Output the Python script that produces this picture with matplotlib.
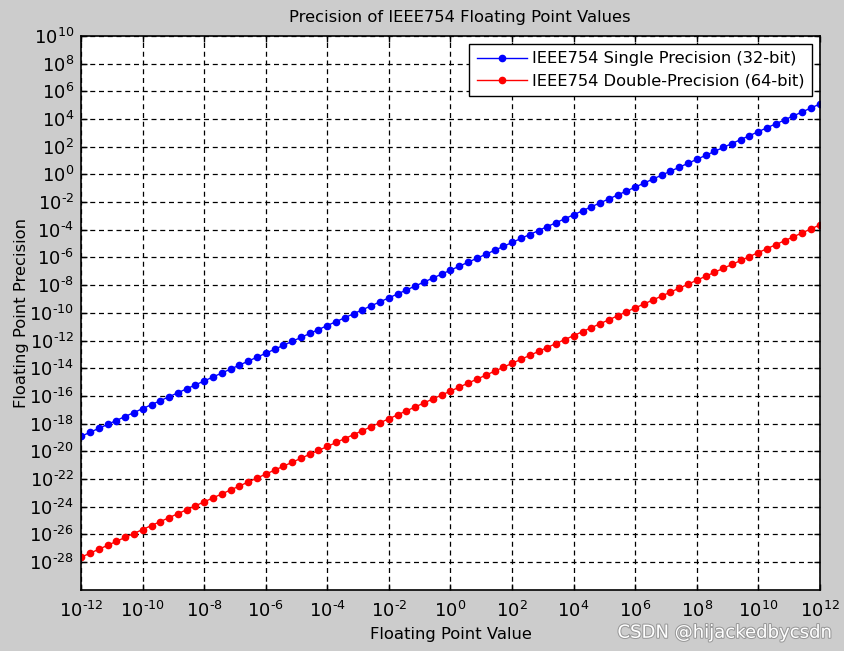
import numpy as np
import matplotlib
matplotlib.use("Agg")
import matplotlib.pyplot as plt
import matplotlib.patheffects as pe
from matplotlib.ticker import FixedLocator, FuncFormatter, NullLocator

# log10 of the floating point values (x axis)
x_exp = [-12.00, -11.71, -11.43, -11.14, -10.86, -10.57, -10.29,
         -10.00, -9.71, -9.43, -9.14, -8.86, -8.57, -8.29,
         -8.00, -7.71, -7.43, -7.14, -6.86, -6.57, -6.29,
         -6.00, -5.71, -5.43, -5.14, -4.86, -4.57, -4.29,
         -4.00, -3.71, -3.43, -3.14, -2.86, -2.57, -2.29,
         -2.00, -1.71, -1.43, -1.14, -0.86, -0.57, -0.29,
         0.00, 0.29, 0.57, 0.86, 1.14, 1.43, 1.71,
         2.00, 2.29, 2.57, 2.86, 3.14, 3.43, 3.71,
         4.00, 4.29, 4.57, 4.86, 5.14, 5.43, 5.71,
         6.00, 6.29, 6.57, 6.86, 7.14, 7.43, 7.71,
         8.00, 8.29, 8.57, 8.86, 9.14, 9.43, 9.71,
         10.00, 10.29, 10.57, 10.86, 11.14, 11.43, 11.71,
         12.00]

# log10 of the precision, single (32-bit)
single_exp = [-18.92, -18.63, -18.35, -18.06, -17.78, -17.49, -17.21,
              -16.92, -16.63, -16.35, -16.06, -15.78, -15.49, -15.21,
              -14.92, -14.63, -14.35, -14.06, -13.78, -13.49, -13.21,
              -12.92, -12.63, -12.35, -12.06, -11.78, -11.49, -11.21,
              -10.92, -10.63, -10.35, -10.06, -9.78, -9.49, -9.21,
              -8.92, -8.63, -8.35, -8.06, -7.78, -7.49, -7.21,
              -6.92, -6.63, -6.35, -6.06, -5.78, -5.49, -5.21,
              -4.92, -4.63, -4.35, -4.06, -3.78, -3.49, -3.21,
              -2.92, -2.63, -2.35, -2.06, -1.78, -1.49, -1.21,
              -0.92, -0.63, -0.35, -0.06, 0.22, 0.51, 0.79,
              1.08, 1.37, 1.65, 1.94, 2.22, 2.51, 2.79,
              3.08, 3.37, 3.65, 3.94, 4.22, 4.51, 4.79,
              5.08]

# log10 of the precision, double (64-bit)
double_exp = [-27.65, -27.36, -27.08, -26.79, -26.51, -26.22, -25.94,
              -25.65, -25.36, -25.08, -24.79, -24.51, -24.22, -23.94,
              -23.65, -23.36, -23.08, -22.79, -22.51, -22.22, -21.94,
              -21.65, -21.36, -21.08, -20.79, -20.51, -20.22, -19.94,
              -19.65, -19.36, -19.08, -18.79, -18.51, -18.22, -17.94,
              -17.65, -17.36, -17.08, -16.79, -16.51, -16.22, -15.94,
              -15.65, -15.36, -15.08, -14.79, -14.51, -14.22, -13.94,
              -13.65, -13.36, -13.08, -12.79, -12.51, -12.22, -11.94,
              -11.65, -11.36, -11.08, -10.79, -10.51, -10.22, -9.94,
              -9.65, -9.36, -9.08, -8.79, -8.51, -8.22, -7.94,
              -7.65, -7.36, -7.08, -6.79, -6.51, -6.22, -5.94,
              -5.65, -5.36, -5.08, -4.79, -4.51, -4.22, -3.94,
              -3.65]

x_ticks = list(range(-12, 13, 2))
y_ticks = list(range(-28, 11, 2))

plt.rcParams["font.family"] = "DejaVu Sans"
plt.rcParams["mathtext.default"] = "regular"

fig = plt.figure(figsize=(8.44, 6.51), dpi=100, facecolor="#cccccc")
ax = fig.add_axes([0.096, 0.094, 0.8755, 0.851])
ax.set_facecolor("white")

x = 10.0 ** np.array(x_exp)
ax.plot(x, 10.0 ** np.array(single_exp), color="blue", marker="o", markersize=4.5,
        markeredgecolor="blue", linewidth=1, label="IEEE754 Single Precision (32-bit)")
ax.plot(x, 10.0 ** np.array(double_exp), color="red", marker="o", markersize=4.5,
        markeredgecolor="red", linewidth=1, label="IEEE754 Double-Precision (64-bit)")

ax.set_xscale("log")
ax.set_yscale("log")
ax.set_xlim(1e-12, 1e12)
ax.set_ylim(1e-30, 1e10)


def pow_label(v, pos):
    e = int(round(np.log10(v)))
    if e < 0:
        return r"$10^{\text{-}%d}$" % (-e)
    return r"$10^{%d}$" % e


ax.xaxis.set_major_locator(FixedLocator([10.0 ** e for e in x_ticks]))
ax.yaxis.set_major_locator(FixedLocator([10.0 ** e for e in y_ticks]))
ax.xaxis.set_minor_locator(NullLocator())
ax.yaxis.set_minor_locator(NullLocator())
ax.xaxis.set_major_formatter(FuncFormatter(pow_label))
ax.yaxis.set_major_formatter(FuncFormatter(pow_label))

ax.tick_params(which="both", direction="in", top=True, right=True, length=4,
               width=1, labelsize=13, pad=5)
ax.tick_params(axis="x", pad=8)
ax.grid(True, color="black", linestyle="--", linewidth=0.9, dashes=(4, 3))
for s in ax.spines.values():
    s.set_linewidth(1.2)

ax.set_title("Precision of IEEE754 Floating Point Values", fontsize=11.8, pad=10,
             x=0.512)
ax.set_xlabel("Floating Point Value", fontsize=11.8, labelpad=4)
ax.set_ylabel("Floating Point Precision", fontsize=11.8, labelpad=0)

leg = ax.legend(loc="upper right", numpoints=1, fontsize=11.7, fancybox=False,
                framealpha=1, edgecolor="black", handlelength=3.1,
                handletextpad=0.3, borderaxespad=0.5, borderpad=0.45,
                labelspacing=0.45)
leg.get_frame().set_linewidth(1)

fig.text(0.985, 0.028, "CSDN @hijackedbycsdn", ha="right", va="center",
         fontsize=13, color="white",
         path_effects=[pe.withStroke(linewidth=1.5, foreground="#999999")])

fig.savefig("out.png", dpi=100, facecolor=fig.get_facecolor())
